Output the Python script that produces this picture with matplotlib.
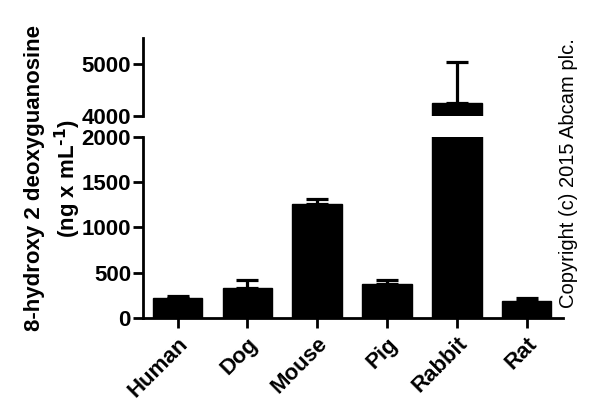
import matplotlib
matplotlib.use("Agg")
import matplotlib.pyplot as plt
import numpy as np

# values (ng x mL-1), mean and upper SD
species = ["Human", "Dog", "Mouse", "Pig", "Rabbit", "Rat"]
means = [226, 336, 1258, 381, 4250, 185]
errors = [17, 81, 52, 44, 790, 36]

lower_ticks = [0, 500, 1000, 1500, 2000]
upper_ticks = [4000, 5000]

plt.rcParams["font.family"] = ["Liberation Sans", "DejaVu Sans"]
plt.rcParams["font.weight"] = "bold"

FS = 16

fig = plt.figure(figsize=(6.0, 4.17), dpi=100)

left, width = 0.238, 0.700
ax_low = fig.add_axes([left, 0.2374, width, 0.4341])
ax_up = fig.add_axes([left, 0.7218, width, 0.1871])

x = np.arange(len(species))
yerr = [np.zeros(len(errors)), errors]

for ax in (ax_low, ax_up):
    ax.bar(x, means, width=0.71, color="black", edgecolor="black", linewidth=1)
    ax.errorbar(x, means, yerr=yerr, fmt="none", ecolor="black",
                elinewidth=2.3, capsize=8, capthick=2.3)
    ax.set_xlim(-0.5, 5.52)
    ax.spines["top"].set_visible(False)
    ax.spines["right"].set_visible(False)
    ax.spines["left"].set_linewidth(2)
    ax.spines["bottom"].set_linewidth(2)
    ax.tick_params(axis="y", direction="out", length=7, width=2,
                   labelsize=FS, pad=1.5)

ax_low.set_ylim(0, 2000)
ax_low.set_yticks(lower_ticks)
ax_low.set_yticklabels([str(t) for t in lower_ticks], fontweight="bold")
ax_low.set_xticks(x)
ax_low.set_xticklabels(species, rotation=45, ha="right", rotation_mode="anchor",
                       fontsize=FS, fontweight="bold")
ax_low.tick_params(axis="x", direction="out", length=7, width=2, pad=4)

ax_up.set_ylim(4000, 5500)
ax_up.set_yticks(upper_ticks)
ax_up.set_yticklabels([str(t) for t in upper_ticks], fontweight="bold")
ax_up.spines["bottom"].set_visible(False)
ax_up.set_xticks([])

fig.text(0.058, 0.573, "8-hydroxy 2 deoxyguanosine", rotation=90,
         ha="center", va="center", fontsize=FS, fontweight="bold")
fig.text(0.113, 0.573, "(ng x mL$\\mathbf{^{\\text{-1}}}$)", rotation=90,
         ha="center", va="center", fontsize=FS, fontweight="bold")

fig.text(0.947, 0.585, "Copyright (c) 2015 Abcam plc.", rotation=90,
         ha="center", va="center", fontsize=14.5, fontweight="normal")

fig.savefig("out.png", dpi=100)
